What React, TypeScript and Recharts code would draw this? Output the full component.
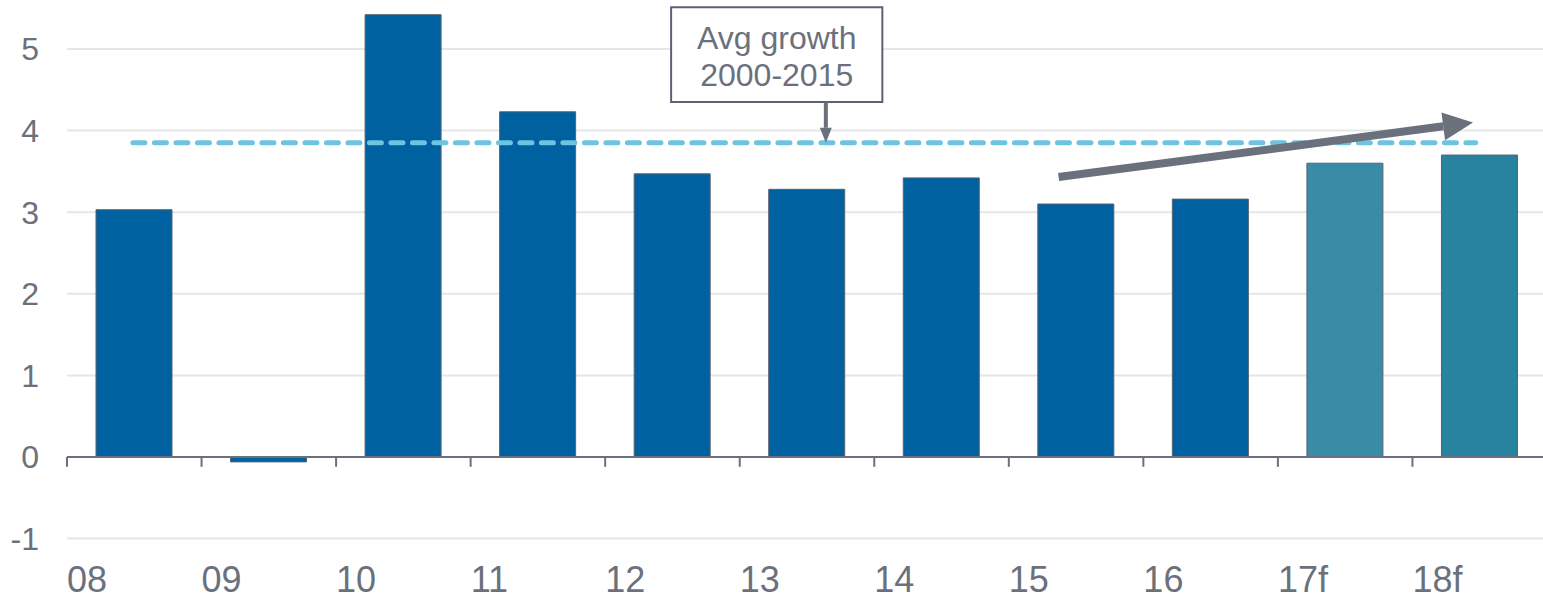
import React from 'react'
import {
  ComposedChart, Bar, Cell, XAxis, YAxis, CartesianGrid, ReferenceLine, ReferenceArea,
} from 'recharts'

const years = ['08', '09', '10', '11', '12', '13', '14', '15', '16', '17f', '18f']
const growth = [3.03, -0.06, 5.42, 4.23, 3.47, 3.28, 3.42, 3.1, 3.16, 3.6, 3.7]
const forecast = [false, false, false, false, false, false, false, false, false, true, true]
const avgGrowth = 3.85
const yTicks = [-1, 0, 1, 2, 3, 4, 5]
// category boundaries on the index axis
const bounds = [-0.5, 0.5, 1.5, 2.5, 3.5, 4.5, 5.5, 6.5, 7.5, 8.5, 9.5, 10.5]

const data = years.map((year, i) => ({ idx: i, year, growth: growth[i] }))

const GRAY = '#6b717c'
const FONT = '"Liberation Sans", Arial, sans-serif'
const forecastColors = ['#3a8ba6', '#27839f']

const barColor = (i) => {
  if (!forecast[i]) return '#0061a1'
  return forecastColors[i - forecast.indexOf(true)] || forecastColors[0]
}

const XTick = (props) => {
  const { x, y, payload } = props
  const label = years[Math.round(payload.value + 0.5)]
  if (label === undefined) return null
  return (
    <text x={x} y={y} dy={45} textAnchor="start" fill={GRAY} fontSize={36} fontFamily={FONT}>
      {label}
    </text>
  )
}

const TrendArrow = (props) => {
  const { x1, y1, x2, y2 } = props
  const ang = Math.atan2(y2 - y1, x2 - x1)
  const headLen = 30
  const headW = 14
  const bx = x2 - headLen * Math.cos(ang)
  const by = y2 - headLen * Math.sin(ang)
  const nx = -Math.sin(ang)
  const ny = Math.cos(ang)
  return (
    <g>
      <line x1={x1} y1={y1} x2={bx} y2={by} stroke={GRAY} strokeWidth={8} />
      <polygon
        points={`${x2},${y2} ${bx + nx * headW},${by + ny * headW} ${bx - nx * headW},${by - ny * headW}`}
        fill={GRAY}
      />
    </g>
  )
}

const CalloutArrow = (props) => {
  const { x1, y1, x2, y2 } = props
  const headLen = 15
  const headW = 6
  return (
    <g>
      <line x1={x1} y1={y1} x2={x2} y2={y2 - headLen} stroke={GRAY} strokeWidth={4} />
      <polygon points={`${x2},${y2} ${x2 - headW},${y2 - headLen} ${x2 + headW},${y2 - headLen}`} fill={GRAY} />
    </g>
  )
}

const CalloutLabel = (props) => {
  const { viewBox } = props
  if (!viewBox) return null
  const cx = viewBox.x + viewBox.width / 2
  const cy = viewBox.y + viewBox.height / 2
  return (
    <text textAnchor="middle" fill={GRAY} fontSize={32} fontFamily={FONT}>
      <tspan x={cx} y={cy - 6}>Avg growth</tspan>
      <tspan x={cx} y={cy + 31}>2000-2015</tspan>
    </text>
  )
}

export default function App() {
  return (
    <div style={{ position: 'absolute', left: 0, top: 0, width: 1543, height: 601, overflow: 'hidden', background: '#fff' }}>
      <ComposedChart width={1547} height={601} data={data} margin={{ top: 0, right: 0, bottom: 0, left: 0 }}>
        <CartesianGrid vertical={false} stroke="#e6e6e6" strokeWidth={2} horizontalValues={yTicks} />
        <XAxis
          dataKey="idx"
          type="number"
          domain={[-0.5, 10.5]}
          allowDataOverflow
          ticks={bounds}
          interval={0}
          axisLine={false}
          tickLine={false}
          height={62.4}
          tick={<XTick />}
        />
        <YAxis
          domain={[-1, 5.6]}
          allowDataOverflow
          ticks={yTicks}
          width={67}
          axisLine={false}
          tickLine={false}
          tickSize={0}
          tickMargin={28}
          tick={{ fill: GRAY, fontSize: 32, fontFamily: FONT }}
        />
        <Bar dataKey="growth" barSize={76} stroke="#56626e" strokeWidth={1} isAnimationActive={false}>
          {data.map((d, i) => (
            <Cell key={d.year} fill={barColor(i)} />
          ))}
        </Bar>
        <ReferenceLine y={0} stroke={GRAY} strokeWidth={2} />
        {bounds.map((b) => (
          <ReferenceLine
            key={`tick-${b}`}
            segment={[{ x: b, y: 0 }, { x: b, y: -0.12 }]}
            stroke={GRAY}
            strokeWidth={2}
            ifOverflow="visible"
          />
        ))}
        <ReferenceLine
          segment={[{ x: -0.01, y: avgGrowth }, { x: 9.97, y: avgGrowth }]}
          stroke="#6cc4df"
          strokeWidth={5}
          strokeDasharray="12 9.5"
          strokeLinecap="round"
          ifOverflow="visible"
        />
        <ReferenceArea
          x1={3.99}
          x2={5.56}
          y1={4.35}
          y2={5.51}
          fill="#fff"
          fillOpacity={1}
          stroke="#5c6178"
          strokeWidth={2}
          ifOverflow="visible"
          label={<CalloutLabel />}
        />
        <ReferenceLine
          segment={[{ x: 5.14, y: 4.35 }, { x: 5.14, y: avgGrowth }]}
          shape={<CalloutArrow />}
          ifOverflow="visible"
        />
        <ReferenceLine
          segment={[{ x: 6.87, y: 3.43 }, { x: 9.95, y: 4.1 }]}
          shape={<TrendArrow />}
          ifOverflow="visible"
        />
      </ComposedChart>
    </div>
  )
}
